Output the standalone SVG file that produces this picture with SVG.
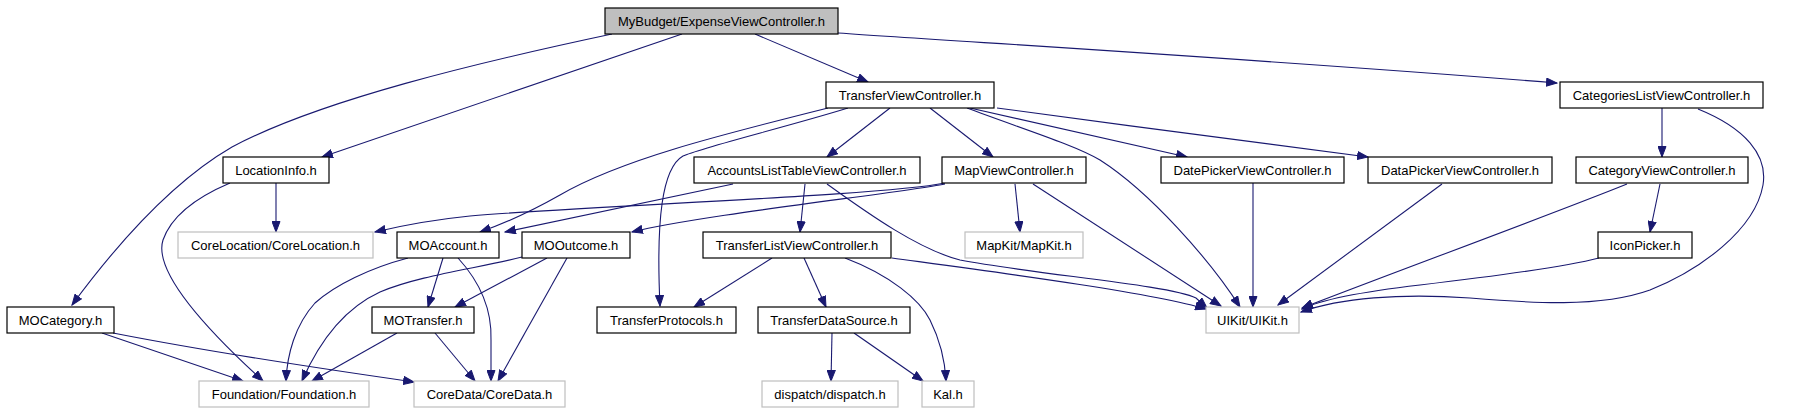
<svg xmlns="http://www.w3.org/2000/svg" width="1806" height="415" viewBox="0 0 1806 415">
<style>
.n rect{fill:#fff;stroke:#000;stroke-width:1.2}
.n.root rect{fill:#bfbfbf}
.n.ext rect{stroke:#bfbfbf}
.n text{font-family:"Liberation Sans",Arial,sans-serif;font-size:13px;fill:#000;text-anchor:middle}
.e path{fill:none;stroke:#191970;stroke-width:1.1;marker-end:url(#ah)}
</style>
<defs>
<marker id="ah" markerWidth="12" markerHeight="9" refX="11" refY="4.5" orient="auto" markerUnits="userSpaceOnUse">
<path d="M0.5,0.5 L11,4.5 L0.5,8.5 z" fill="#191970" stroke="#191970" stroke-width="1"/>
</marker>
</defs>
<rect width="1806" height="415" fill="#fff"/>
<g id="edges" class="e">
<path d="M612,34 C480,62 320,100 232,147 C175,180 120,240 72,305"/>
<path d="M682,34 L322,157"/>
<path d="M755,34 L868,82"/>
<path d="M838,33 C1000,44 1300,62 1557,83"/>
<path d="M828,108 C720,135 620,160 560,195 C530,212 500,225 480,232"/>
<path d="M848,108 C790,126 700,148 683,156 C662,168 656,220 660,306"/>
<path d="M890,108 L827,157"/>
<path d="M930,108 L993,157"/>
<path d="M967,108 C1020,128 1075,145 1100,160 C1150,192 1210,260 1240,307"/>
<path d="M970,108 L1187,157"/>
<path d="M997,108 C1120,125 1280,145 1368,157"/>
<path d="M1662,108 L1662,157"/>
<path d="M1698,109 C1745,128 1768,155 1763,185 C1755,230 1700,270 1650,290 C1600,308 1530,303 1470,298 C1400,293 1340,298 1301,312"/>
<path d="M276,183 L276,232"/>
<path d="M230,183 C190,200 170,220 163,240 C155,265 185,310 263,381"/>
<path d="M733,184 L505,232"/>
<path d="M805,184 L800,232"/>
<path d="M827,184 C870,215 920,250 960,260 C1040,275 1170,285 1196,298 L1207,308"/>
<path d="M945,183 C880,196 600,205 470,216 C430,220 400,226 375,232"/>
<path d="M945,184 C900,193 700,215 632,232"/>
<path d="M1015,184 L1020,232"/>
<path d="M1033,184 L1221,306"/>
<path d="M1253,183 L1253,307"/>
<path d="M1442,184 L1278,305"/>
<path d="M1627,184 C1550,215 1400,270 1302,308"/>
<path d="M1660,184 L1650,232"/>
<path d="M408,258 C370,268 335,285 315,303 C295,325 287,355 286,381"/>
<path d="M443,258 L428,307"/>
<path d="M458,258 C480,282 492,310 491,340 C491,355 491,370 491,381"/>
<path d="M522,257 C480,268 420,275 380,292 C345,308 320,340 302,381"/>
<path d="M547,258 L455,307"/>
<path d="M567,258 L498,381"/>
<path d="M772,258 L694,307"/>
<path d="M804,258 L826,307"/>
<path d="M845,258 C890,275 920,300 930,320 C940,340 945,360 946,381"/>
<path d="M892,258 C980,270 1150,292 1206,309"/>
<path d="M1599,258 C1560,268 1480,278 1420,285 C1360,292 1320,300 1302,309"/>
<path d="M102,333 L243,381"/>
<path d="M113,333 C200,350 330,370 414,382"/>
<path d="M397,333 L312,381"/>
<path d="M435,333 L475,381"/>
<path d="M832,333 L831,381"/>
<path d="M854,333 L923,381"/>
</g>
<g id="n_main" class="n root"><rect x="605" y="8" width="233" height="26"/><text x="721.5" y="26">MyBudget/ExpenseViewController.h</text></g>
<g id="n_transfervc" class="n"><rect x="826" y="82" width="168" height="26"/><text x="910" y="100">TransferViewController.h</text></g>
<g id="n_categorieslist" class="n"><rect x="1560" y="82" width="203" height="26"/><text x="1661.5" y="100">CategoriesListViewController.h</text></g>
<g id="n_locationinfo" class="n"><rect x="223" y="157" width="106" height="26"/><text x="276" y="175">LocationInfo.h</text></g>
<g id="n_accountslist" class="n"><rect x="694" y="157" width="226" height="26"/><text x="807" y="175">AccountsListTableViewController.h</text></g>
<g id="n_mapvc" class="n"><rect x="942" y="157" width="144" height="26"/><text x="1014" y="175">MapViewController.h</text></g>
<g id="n_datepicker" class="n"><rect x="1161" y="157" width="183" height="26"/><text x="1252.5" y="175">DatePickerViewController.h</text></g>
<g id="n_datapicker" class="n"><rect x="1368" y="157" width="184" height="26"/><text x="1460" y="175">DataPickerViewController.h</text></g>
<g id="n_categoryview" class="n"><rect x="1576" y="157" width="172" height="26"/><text x="1662" y="175">CategoryViewController.h</text></g>
<g id="n_corelocation" class="n ext"><rect x="178" y="232" width="195" height="26"/><text x="275.5" y="250">CoreLocation/CoreLocation.h</text></g>
<g id="n_moaccount" class="n"><rect x="397" y="232" width="102" height="26"/><text x="448" y="250">MOAccount.h</text></g>
<g id="n_mooutcome" class="n"><rect x="522" y="232" width="108" height="26"/><text x="576" y="250">MOOutcome.h</text></g>
<g id="n_transferlist" class="n"><rect x="703" y="232" width="188" height="26"/><text x="797" y="250">TransferListViewController.h</text></g>
<g id="n_mapkit" class="n ext"><rect x="965" y="232" width="118" height="26"/><text x="1024" y="250">MapKit/MapKit.h</text></g>
<g id="n_iconpicker" class="n"><rect x="1598" y="232" width="94" height="26"/><text x="1645" y="250">IconPicker.h</text></g>
<g id="n_mocategory" class="n"><rect x="7" y="307" width="107" height="26"/><text x="60.5" y="325">MOCategory.h</text></g>
<g id="n_motransfer" class="n"><rect x="372" y="307" width="102" height="26"/><text x="423" y="325">MOTransfer.h</text></g>
<g id="n_transferprotocols" class="n"><rect x="597" y="307" width="139" height="26"/><text x="666.5" y="325">TransferProtocols.h</text></g>
<g id="n_transferdatasource" class="n"><rect x="758" y="307" width="152" height="26"/><text x="834" y="325">TransferDataSource.h</text></g>
<g id="n_uikit" class="n ext"><rect x="1206" y="307" width="93" height="26"/><text x="1252.5" y="325">UIKit/UIKit.h</text></g>
<g id="n_foundation" class="n ext"><rect x="199" y="381" width="170" height="26"/><text x="284" y="399">Foundation/Foundation.h</text></g>
<g id="n_coredata" class="n ext"><rect x="414" y="381" width="151" height="26"/><text x="489.5" y="399">CoreData/CoreData.h</text></g>
<g id="n_dispatch" class="n ext"><rect x="762" y="381" width="136" height="26"/><text x="830" y="399">dispatch/dispatch.h</text></g>
<g id="n_kal" class="n ext"><rect x="922" y="381" width="52" height="26"/><text x="948" y="399">Kal.h</text></g>
</svg>
